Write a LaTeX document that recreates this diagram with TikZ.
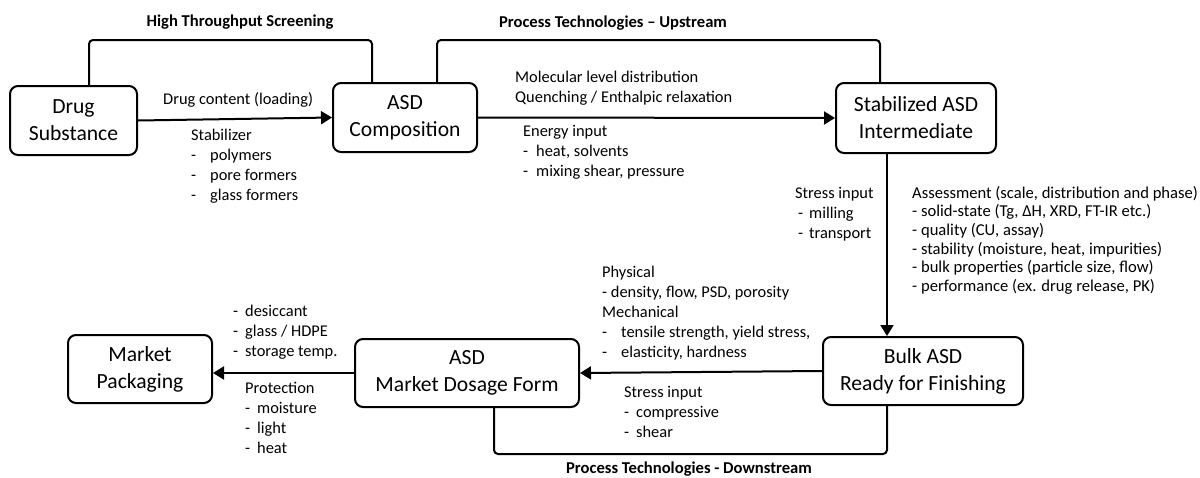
\documentclass[tikz,border=0pt]{standalone}
\usepackage{fontspec}
\setmainfont{Carlito}
\usetikzlibrary{arrows.meta}
\newcommand\firstln{\rule{0pt}{13pt}}
\begin{document}
\begin{tikzpicture}[x=1pt,y=-1pt,
  box/.style={draw, line width=2pt, rounded corners=8pt, align=center, inner sep=0pt, font=\fontsize{21.6}{27}\selectfont},
  arr/.style={line width=2pt, -{Triangle[length=11pt,width=13pt]}},
  brk/.style={line width=2pt, rounded corners=4pt},
  txt/.style={anchor=north west, inner sep=0pt, align=left, font=\fontsize{16.4}{20}\selectfont},
  txtb/.style={txt, font=\fontsize{16.6}{18.6}\selectfont},
  hdr/.style={inner sep=0pt, font=\fontsize{16.6}{18}\selectfont\bfseries}]
\useasboundingbox (0,0) rectangle (1200,477);

% boxes
\node[box, minimum width=127pt, minimum height=69pt] (DS) at (73.5,120.5) {Drug\\Substance};
\node[box, minimum width=144pt, minimum height=69pt] (AC) at (405,117.5) {ASD\\Composition};
\node[box, minimum width=160pt, minimum height=70pt] (SI) at (916,118) {Stabilized ASD\\Intermediate};
\node[box, minimum width=200pt, minimum height=68pt] (BA) at (923,371) {Bulk ASD\\Ready for Finishing};
\node[box, minimum width=224pt, minimum height=68pt] (MDF) at (467,373) {ASD\\Market Dosage Form};
\node[box, minimum width=144pt, minimum height=68pt] (MP) at (140,369) {Market\\Packaging};

% arrows
\draw[arr] (DS.east) -- (AC.west);
\draw[arr] (AC.east) -- (SI.west);
\coordinate (v) at (887,0);
\draw[arr] (SI.south -| v) -- (BA.north -| v);
\draw[arr] (BA.west) -- (MDF.east);
\draw[arr] (MDF.west) -- (MDF.west -| MP.east);

% brackets
\coordinate (h1) at (89,40); \coordinate (h2) at (372,40);
\draw[brk] (DS.north -| h1) -- (h1) -- (h2) -- (AC.north -| h2);
\coordinate (u1) at (437,40); \coordinate (u2) at (880,40);
\draw[brk] (AC.north -| u1) -- (u1) -- (u2) -- (SI.north -| u2);
\coordinate (d1) at (494,454); \coordinate (d2) at (887,454);
\draw[brk] (MDF.south -| d1) -- (d1) -- (d2) -- (BA.south -| d2);

% headers
\node[hdr] (hts) at (240,22) {High Throughput Screening};
\node[hdr] (up) at (613,23) {Process Technologies -- Upstream};
\node[hdr] (down) at (689,469) {Process Technologies - Downstream};

% text blocks
\node[txt] (t1) at (163,91) {\firstln Drug content (loading)};
\node[txt] (t2) at (191,127) {\firstln Stabilizer\\-\hspace*{14pt}polymers\\-\hspace*{14pt}pore formers\\-\hspace*{14pt}glass formers};
\node[txt] (t3) at (515,69) {\firstln Molecular level distribution\\Quenching / Enthalpic relaxation};
\node[txt] (t4) at (523,123) {\firstln Energy input\\-\hspace*{8pt}heat, solvents\\-\hspace*{8pt}mixing shear, pressure};
\node[txt] (t5) at (795,185) {\firstln Stress input\\\hspace*{3pt}-\hspace*{6pt}milling\\\hspace*{3pt}-\hspace*{6pt}transport};
\node[txtb] (t6) at (912,185) {\firstln Assessment (scale, distribution and phase)\\- solid-state (Tg, ΔH, XRD, FT-IR etc.)\\- quality (CU, assay)\\- stability (moisture, heat, impurities)\\- bulk properties (particle size, flow)\\- performance (ex. drug release, PK)};
\node[txt] (t7) at (602,264) {\firstln Physical\\- density, flow, PSD, porosity\\Mechanical\\-\hspace*{14pt}tensile strength, yield stress,\\-\hspace*{14pt}elasticity, hardness};
\node[txt] (t8) at (624,384) {\firstln Stress input\\-\hspace*{7pt}compressive\\-\hspace*{7pt}shear};
\node[txt] (t9) at (233,303) {\firstln -\hspace*{7pt}desiccant\\-\hspace*{7pt}glass / HDPE\\-\hspace*{7pt}storage temp.};
\node[txt] (t10) at (245,380) {\firstln Protection\\-\hspace*{7pt}moisture\\-\hspace*{7pt}light\\-\hspace*{7pt}heat};
\end{tikzpicture}
\end{document}
